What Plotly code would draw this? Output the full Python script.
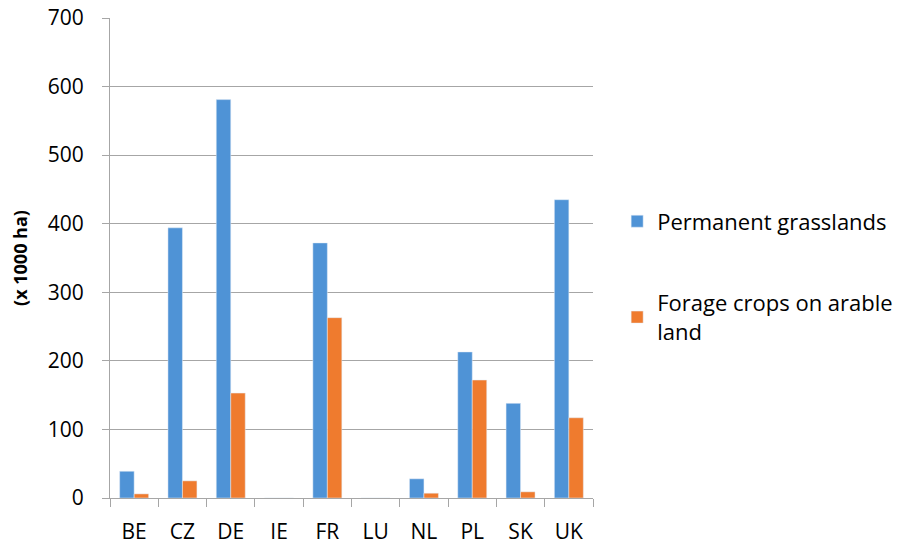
import plotly.graph_objects as go

countries = ["BE", "CZ", "DE", "IE", "FR", "LU", "NL", "PL", "SK", "UK"]
permanent_grasslands = [39, 394, 581, 0, 372, 0, 28, 213, 138, 435]
forage_crops = [6, 25, 153, 0, 263, 0, 7, 172, 9, 117]

FONT = "'Open Sans', Lato, sans-serif"
GRID = "#A6A6A6"

fig = go.Figure()
fig.add_trace(go.Bar(
    x=countries, y=permanent_grasslands,
    name="Permanent grasslands",
    marker_color="#4F93D6",
    legendgroup="a",
))
fig.add_trace(go.Bar(
    x=countries, y=forage_crops,
    name="Forage crops on arable<br>land",
    marker_color="#EF7B2E",
    legendgroup="b",
))

fig.update_layout(
    width=905, height=544,
    plot_bgcolor="white", paper_bgcolor="white",
    font=dict(family=FONT, size=21, color="#000000"),
    barmode="group",
    bargap=0.4, bargroupgap=0.0,
    margin=dict(l=102, r=320, t=10, b=54),
    showlegend=True,
    legend=dict(
        x=1.05, xanchor="left", y=0.62, yanchor="top",
        font=dict(size=22), tracegroupgap=50,
        itemwidth=30,
    ),
    yaxis=dict(
        range=[0, 700], dtick=100,
        showgrid=True, gridcolor=GRID, gridwidth=1,
        showline=True, linecolor=GRID, linewidth=1,
        ticks="outside", ticklen=7, tickcolor=GRID,
        ticklabelstandoff=14, ticklabeloverflow="allow",
        zeroline=False, automargin=False,
        title=dict(text="<b>(x 1000 ha)</b>", font=dict(size=18), standoff=18),
    ),
    xaxis=dict(
        showline=True, linecolor=GRID, linewidth=1,
        ticks="outside", ticklen=8, tickcolor=GRID,
        tickson="boundaries", automargin=False,
        ticklabelstandoff=15,
    ),
)

fig.write_html("out.html")
